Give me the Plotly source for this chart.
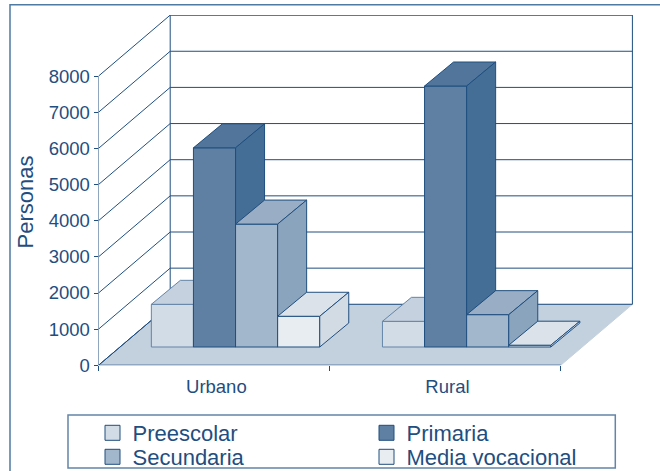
import plotly.graph_objects as go

categories = ["Urbano", "Rural"]
series = ["Preescolar", "Primaria", "Secundaria", "Media vocacional"]
preescolar = [1180, 710]
primaria = [5510, 7220]
secundaria = [3400, 895]
media_vocacional = [850, 50]
values = [preescolar, primaria, secundaria, media_vocacional]
y_ticks = [0, 1000, 2000, 3000, 4000, 5000, 6000, 7000, 8000]

front_colors = ["#d2dce6", "#5f80a3", "#a3b7cc", "#e8edf2"]
top_colors = ["#c5d1de", "#52769b", "#99aec4", "#dbe2ea"]
side_colors = ["#d2dbe4", "#446e96", "#8ba4bd", "#d2dbe4"]
edge_colors = ["#6485a8", "#1f4e7f", "#1f4e7f", "#1f4e7f"]
INK = "#1f4e7f"
FLOOR = "#c3d0dd"

W, H = 660, 471
PX_L, PX_R, PX_T, PX_B = 98.5, 633, 15, 365.3
PX_PER_CAT = 231.1
PX_PER_VAL = 36.15 / 1000
X_MAX = (PX_R - PX_L) / PX_PER_CAT
Y_MAX = (PX_B - PX_T) / PX_PER_VAL
WALL_DX = 71.7 / PX_PER_CAT
WALL_DY = 61 / PX_PER_VAL
FRONT_DX = 21.5 / PX_PER_CAT
FRONT_DY = 18.3 / PX_PER_VAL
BAR_W = 42.1 / PX_PER_CAT
BAR_DX = 29 / PX_PER_CAT
BAR_DY = 24 / PX_PER_VAL

fig = go.Figure()


def poly(xs, ys, fill, line=INK, width=1):
    fig.add_trace(go.Scatter(
        x=list(xs) + [xs[0]], y=list(ys) + [ys[0]], mode="lines", fill="toself",
        fillcolor=fill, line=dict(color=line, width=width), showlegend=False,
        hoverinfo="skip", cliponaxis=False))


def seg(xs, ys, color=INK, width=1):
    fig.add_trace(go.Scatter(
        x=xs, y=ys, mode="lines", line=dict(color=color, width=width),
        showlegend=False, hoverinfo="skip", cliponaxis=False))


n = len(categories)
# floor
poly([0, n, n + WALL_DX, WALL_DX], [0, 0, WALL_DY, WALL_DY], FLOOR, line=FLOOR)
seg([0, n], [0, 0], "#5e80a8", 1.5)
seg([0, WALL_DX], [0, WALL_DY])
# side wall and back wall grid
for t in y_ticks:
    seg([0, WALL_DX], [t, t + WALL_DY])
    if t > 0:
        seg([WALL_DX, n + WALL_DX], [t + WALL_DY, t + WALL_DY], width=1.5 if t == y_ticks[-1] else 1)
seg([WALL_DX, n + WALL_DX], [WALL_DY, WALL_DY])
seg([WALL_DX, WALL_DX], [WALL_DY, y_ticks[-1] + WALL_DY])
seg([n + WALL_DX, n + WALL_DX], [WALL_DY, y_ticks[-1] + WALL_DY])
seg([0, 0], [0, y_ticks[-1]])

# bars, painted left to right
for c in range(n):
    x0 = c + 0.5 + FRONT_DX - BAR_W * len(series) / 2
    for s in range(len(series)):
        v = values[s][c]
        l = x0 + s * BAR_W
        r = l + BAR_W
        b = FRONT_DY
        t = b + v
        poly([l, r, r, l], [b, b, t, t], front_colors[s], line=edge_colors[s])
        poly([l, r, r + BAR_DX, l + BAR_DX], [t, t, t + BAR_DY, t + BAR_DY], top_colors[s], line=edge_colors[s])
        poly([r, r + BAR_DX, r + BAR_DX, r], [b, b + BAR_DY, t + BAR_DY, t], side_colors[s], line=edge_colors[s])

# legend entries: each row is its own legend so that the rows can sit tight together
for s, name in enumerate(series):
    fig.add_trace(go.Scatter(
        x=[None], y=[None], mode="markers", name=name, legend="legend" if s < 2 else "legend2",
        marker=dict(symbol="square", size=15, color=front_colors[s], line=dict(color=INK, width=1))))

row = dict(orientation="h", x=92.5 / W, xanchor="left", yanchor="middle",
           entrywidth=229, entrywidthmode="pixels", font=dict(size=22),
           bgcolor="rgba(0,0,0,0)", traceorder="normal", itemclick=False)

fig.update_layout(
    width=W, height=H, margin=dict(l=0, r=0, t=0, b=0, autoexpand=False),
    paper_bgcolor="white", plot_bgcolor="rgba(0,0,0,0)",
    font=dict(family="Liberation Sans, Arial, sans-serif", color=INK, size=18),
    showlegend=True,
    legend=dict(row, y=1 - 433 / H),
    legend2=dict(row, y=1 - 457 / H),
    xaxis=dict(domain=[PX_L / W, PX_R / W], range=[0, X_MAX], showgrid=False, zeroline=False,
               showline=False, tickmode="array", tickvals=[0.51, 1.51], ticktext=categories,
               ticks="outside", ticklen=4, tickcolor="rgba(0,0,0,0)", tickfont=dict(size=18.5),
               minor=dict(tickmode="array", tickvals=[0, 1, 2], ticks="outside", ticklen=5,
                          tickcolor=INK, showgrid=False)),
    yaxis=dict(domain=[1 - PX_B / H, 1 - PX_T / H], range=[0, Y_MAX], showgrid=False, zeroline=False,
               showline=False, tickmode="array", tickvals=y_ticks, ticks="outside", ticklen=4,
               tickcolor=INK, tickfont=dict(size=18.5)),
    annotations=[dict(text="Personas", textangle=-90, xref="paper", yref="paper",
                      x=24.5 / W, y=1 - 202 / H, xanchor="center", yanchor="middle",
                      showarrow=False, font=dict(size=22))],
    shapes=[
        dict(type="rect", xref="paper", yref="paper", x0=10 / W, x1=1.02, y0=-0.02, y1=1 - 4.7 / H,
             line=dict(color="#4f7aa3", width=1.5)),
        dict(type="rect", xref="paper", yref="paper", x0=68 / W, x1=615.3 / W, y0=1 - 468 / H, y1=1 - 415 / H,
             line=dict(color="#6385a8", width=1.5)),
    ],
)
fig.write_html("out.html", config=dict(displayModeBar=False),
               post_script="document.body.style.margin='0';")
